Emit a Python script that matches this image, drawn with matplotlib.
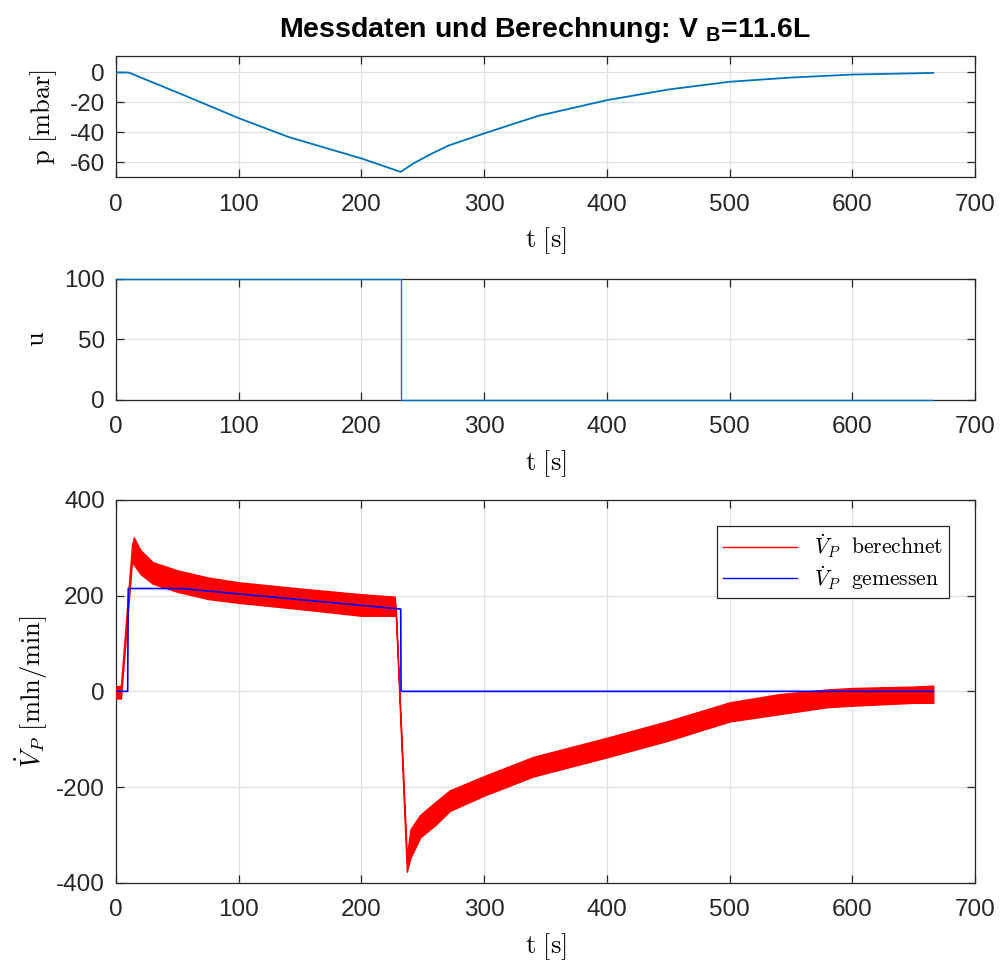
import matplotlib
matplotlib.use("Agg")
import matplotlib.pyplot as plt
from matplotlib.font_manager import FontProperties
from matplotlib.lines import Line2D

t_p = [0, 10, 13, 18, 25, 54, 100, 141, 200, 232, 242, 257, 271, 300, 344, 400, 450, 500, 550, 600, 666]
p_mbar = [0, 0, -0.9, -2.6, -5.0, -14.7, -30.5, -43.2, -57.4, -66.4, -60.9, -54.3, -48.8, -40.7, -29,
          -18.5, -11.4, -6.2, -3.4, -1.4, -0.3]

# Stellgroesse u
t_u = [0, 232.3, 232.3, 666]
u_val = [100, 100, 0, 0]

# Volumenstrom gemessen
t_meas = [0, 9.5, 10, 53, 232, 232.3, 666]
v_meas = [0, 0, 215, 215, 172, 0, 0]

# Volumenstrom berechnet: untere / obere Huelle des Rauschbands
t_calc = [0, 4, 13, 14.5, 20, 30, 50, 75, 100, 150, 200, 227, 228, 237, 240, 248, 260, 272,
          300, 340, 400, 450, 500, 540, 580, 600, 650, 666]
calc_lo = [-15, -15, 270, 265, 245, 225, 208, 193, 185, 172, 158, 158, 160, -377, -348, -305,
           -280, -250, -218, -178, -138, -103, -63, -48, -33, -30, -24, -24]
calc_hi = [10, 12, 305, 322, 295, 270, 253, 238, 228, 215, 203, 198, 175, -345, -288, -258,
           -232, -207, -177, -137, -97, -62, -23, -6, 4, 7, 10, 12]

x_ticks = [0, 100, 200, 300, 400, 500, 600, 700]

plt.rcParams["font.family"] = ["Liberation Sans", "DejaVu Sans"]
plt.rcParams["mathtext.fontset"] = "cm"
plt.rcParams["axes.unicode_minus"] = False

fig = plt.figure(figsize=(10.01, 9.6), dpi=100)
W, H = 1001, 960


def make_axes(top, bottom):
    ax = fig.add_axes([116 / W, 1 - bottom / H, 859 / W, (bottom - top) / H])
    ax.set_xlim(0, 700)
    ax.set_xticks(x_ticks)
    ax.grid(True, color="#e0e0e0", linewidth=0.9)
    ax.set_axisbelow(True)
    for s in ax.spines.values():
        s.set_color("#262626")
        s.set_linewidth(0.9)
    ax.tick_params(direction="in", length=6, width=0.9, top=True, right=True,
                   labelsize=17.5, colors="#262626")
    ax.tick_params(axis="x", pad=12)
    ax.tick_params(axis="y", pad=8)
    ax.set_xlabel(r"$\mathrm{t\ [s]}$", fontsize=19, labelpad=7)
    return ax


ax1 = make_axes(56, 177.3)
ax1.plot(t_p, p_mbar, color="#0072BD", linewidth=1.3, zorder=3)
ax1.set_ylim(-70, 11)
ax1.set_yticks([-60, -40, -20, 0])
ax1.set_ylabel(r"$\mathrm{p\ [mbar]}$", fontsize=19)
ax1.yaxis.set_label_coords(-0.066, 0.5)

ax2 = make_axes(279, 399.7)
ax2.plot(t_u, u_val, color="#0072BD", linewidth=1.0, clip_on=False, zorder=5)
ax2.set_ylim(0, 100)
ax2.set_yticks([0, 50, 100])
ax2.set_ylabel(r"$\mathrm{u}$", fontsize=19)
ax2.yaxis.set_label_coords(-0.078, 0.5)

ax3 = make_axes(500, 882.7)
ax3.fill_between(t_calc, calc_lo, calc_hi, color="red", linewidth=1.0, zorder=3)
ax3.plot(t_meas, v_meas, color="blue", linewidth=1.2, zorder=4)
ax3.set_ylim(-400, 400)
ax3.set_yticks([-400, -200, 0, 200, 400])
ax3.set_ylabel(r"$\dot{V}_P\ \mathrm{[mln/min]}$", fontsize=19)
ax3.yaxis.set_label_coords(-0.077, 0.5)

handles = [Line2D([], [], color="red", linewidth=1.0),
           Line2D([], [], color="blue", linewidth=1.0)]
leg = ax3.legend(handles, [r"$\dot{V}_P\ \ \mathrm{berechnet}$", r"$\dot{V}_P\ \ \mathrm{gemessen}$"],
                 loc="upper right", prop=FontProperties(size=15.5), handlelength=3.4,
                 fancybox=False, framealpha=1, edgecolor="#262626",
                 borderaxespad=1.2, labelspacing=0.2, borderpad=0.3)
leg.get_frame().set_linewidth(0.9)

plt.rcParams["mathtext.rm"] = "Liberation Sans:bold"
ax1.set_title(r"Messdaten und Berechnung: V ${}_{\mathrm{B}}$=11.6L", fontsize=20.5,
              fontweight="bold", pad=14, math_fontfamily="custom")

fig.savefig("out.png", dpi=100)
